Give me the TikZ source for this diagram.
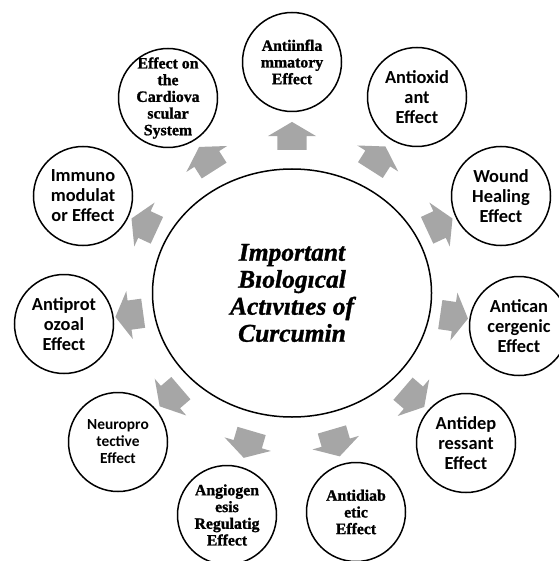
\documentclass[tikz,border=0pt]{standalone}
\usepackage{fontspec}
\setmainfont{Liberation Serif}
\newfontfamily\calfont{Carlito}[BoldFont={Carlito Bold}]
\newfontfamily\timesb{Liberation Serif Bold}[FakeBold=1.2]
\newfontfamily\timesbi{Liberation Serif Bold Italic}[FakeBold=1.2]
\usetikzlibrary{shapes.geometric,shapes.arrows}
\tikzset{
  outer/.style={circle, draw=black, line width=1.5pt, minimum size=99pt, inner sep=0pt, fill=white},
  serifl/.style={font=\timesb\fontsize{15.8}{16.7}\selectfont, align=center, text=black, inner sep=0pt},
  sansl/.style={font=\calfont\fontsize{18.4}{20}\selectfont\bfseries, align=center, text=black, inner sep=0pt},
  sanssmall/.style={font=\calfont\fontsize{15.4}{17}\selectfont\bfseries, align=center, text=black, inner sep=0pt},
  centl/.style={font=\timesbi\fontsize{25.5}{27}\selectfont, align=center, text=black, inner sep=0pt},
  blockarrow/.style={single arrow, fill=black!35, draw=none, minimum height=28pt,
    inner xsep=0pt, inner ysep=14.5pt, single arrow head extend=9.5pt, single arrow tip angle=119,
    sloped, allow upside down},
}
\begin{document}
\begin{tikzpicture}[x=1pt, y=-1pt]
\useasboundingbox (0,0) rectangle (558,561);
\node[ellipse, draw=black, line width=1.5pt, minimum width=279pt, minimum height=248pt, inner sep=0pt,
  label={[centl]center:{Important\\Bıologıcal\\Actıvıtıes of\\Curcumin}}] (c) at (292,293) {};
\node[outer, label={[serifl]center:{Antiinfla\\mmatory\\Effect}}] (o1) at (292,62) {};
\node[outer, label={[sansl]center:{Antioxid\\ant\\Effect}}] (o2) at (417,97) {};
\node[outer, label={[sansl]center:{Wound\\Healing\\Effect}}] (o3) at (501,196) {};
\node[outer, label={[sansl]center:{Antican\\cergenic\\Effect}}] (o4) at (519,326) {};
\node[outer, label={[sansl]center:{Antidep\\ressant\\Effect}}] (o5) at (466,443) {};
\node[outer, label={[serifl]center:{Antidiab\\etic\\Effect}}] (o6) at (356,512) {};
\node[outer, label={[serifl]center:{Angiogen\\esis\\Regulatig\\Effect}}] (o7) at (227,515) {};
\node[outer, label={[sanssmall]center:{Neuropro\\tective\\Effect}}] (o8) at (118,442) {};
\node[outer, label={[sansl]center:{Antiprot\\ozoal\\Effect}}] (o9) at (64,324) {};
\node[outer, label={[sansl]center:{Immuno\\modulat\\or Effect}}] (o10) at (83,196) {};
\node[outer, label={[serifl]center:{Effect on\\the\\Cardiova\\scular\\System}}] (o11) at (168,98) {};
\foreach \i in {1,...,11} {
  \path (c) -- (o\i) node[midway, blockarrow] (a\i) {};
}
\end{tikzpicture}
\end{document}
